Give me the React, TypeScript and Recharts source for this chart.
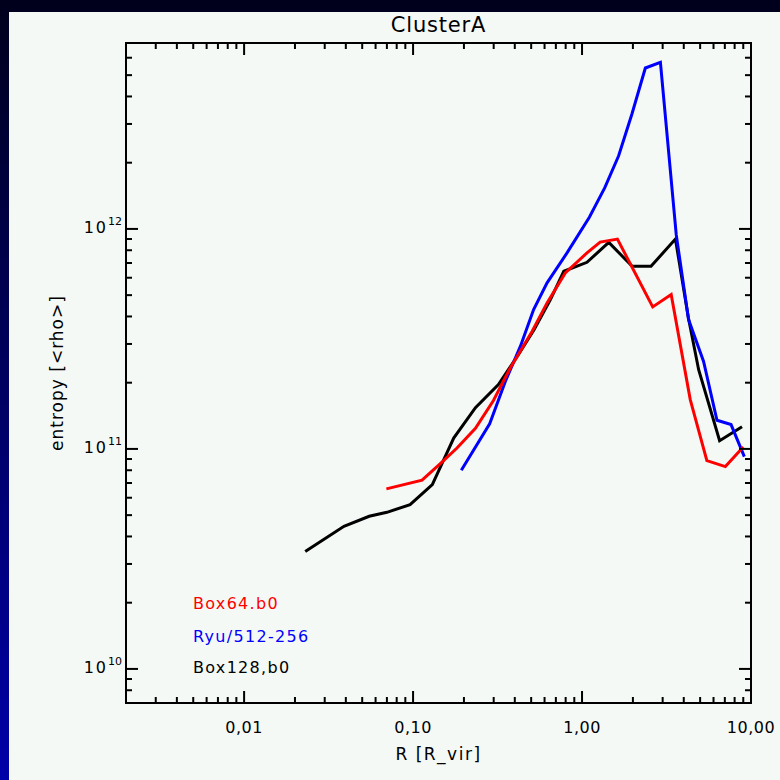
import React from "react";
import { LineChart, Line, XAxis, YAxis, ReferenceArea, Legend, Label } from "recharts";

// Radial entropy profiles, R in units of R_vir
const BOX64_R = [0.0695, 0.113, 0.145, 0.182, 0.234, 0.299, 0.376, 0.506, 0.621, 0.796, 1.07, 1.28, 1.62, 2.62, 3.37, 4.37, 5.48, 7.05, 9.0];
const BOX64_S = [6.58e10, 7.21e10, 8.57e10, 1.01e11, 1.24e11, 1.66e11, 2.33e11, 3.42e11, 4.61e11, 6.31e11, 7.78e11, 8.71e11, 8.99e11, 4.42e11, 5.03e11, 1.675e11, 8.85e10, 8.31e10, 1.02e11];

const RYU_R = [0.193, 0.284, 0.352, 0.432, 0.517, 0.621, 0.815, 1.105, 1.364, 1.647, 1.976, 2.37, 2.91, 3.61, 4.27, 5.24, 6.29, 7.62, 9.13];
const RYU_S = [8.0e10, 1.3e11, 2.03e11, 2.93e11, 4.3e11, 5.69e11, 7.78e11, 1.13e12, 1.54e12, 2.15e12, 3.34e12, 5.39e12, 5.72e12, 9.42e11, 3.87e11, 2.5e11, 1.35e11, 1.29e11, 9.23e10];

const BOX128_R = [0.023, 0.039, 0.055, 0.07, 0.096, 0.13, 0.174, 0.234, 0.32, 0.42, 0.52, 0.65, 0.78, 1.07, 1.44, 1.98, 2.56, 3.57, 4.26, 4.9, 6.52, 8.85];
const BOX128_S = [3.42e10, 4.45e10, 4.94e10, 5.15e10, 5.58e10, 6.88e10, 1.12e11, 1.54e11, 1.96e11, 2.68e11, 3.48e11, 4.77e11, 6.42e11, 7.05e11, 8.69e11, 6.76e11, 6.76e11, 9.0e11, 3.95e11, 2.29e11, 1.09e11, 1.26e11];

const X_DOMAIN = [0.002, 10];
const Y_DOMAIN = [7e9, 7e12];

const X_MAJOR = [0.01, 0.1, 1, 10];
const X_MAJOR_LABELS = ["0,01", "0,10", "1,00", "10,00"];
const X_DECADES = [0.001, 0.01, 0.1, 1];

const Y_MAJOR = [1e10, 1e11, 1e12];
const Y_EXPONENTS = ["10", "11", "12"];
const Y_DECADES = [1e9, 1e10, 1e11, 1e12];

const MINOR_STEPS = [2, 3, 4, 5, 6, 7, 8, 9];

const FONT = "'DejaVu Sans', sans-serif";
const PLOT = { left: 126, top: 43, right: 751, bottom: 703 };
const MAJOR_LEN = 12;
const MINOR_LEN = 6;

const toPoints = (rs: number[], ss: number[]) => rs.map((r, i) => ({ r, s: ss[i] }));

const minorTicks = (decades: number[], [lo, hi]: number[]) =>
  decades
    .flatMap((d) => MINOR_STEPS.map((m) => m * d))
    .filter((v) => v > lo * 1.0001 && v < hi * 0.9999);

const X_TICKS = [...X_MAJOR, ...minorTicks(X_DECADES, X_DOMAIN)].sort((a, b) => a - b);
const Y_TICKS = [...Y_MAJOR, ...minorTicks(Y_DECADES, Y_DOMAIN)].sort((a, b) => a - b);

const SERIES = [
  { name: "Box64.b0", color: "#ff0000" },
  { name: "Ryu/512-256", color: "#0000ff" },
  { name: "Box128,b0", color: "#000000" },
];

// inward ticks on both opposite edges of the box, labels only on decades
function XTick({ x, payload }: any) {
  const idx = X_MAJOR.indexOf(payload.value);
  const len = idx >= 0 ? MAJOR_LEN : MINOR_LEN;
  return (
    <g>
      <line x1={x} x2={x} y1={PLOT.bottom} y2={PLOT.bottom - len} stroke="#000" strokeWidth={2} />
      <line x1={x} x2={x} y1={PLOT.top} y2={PLOT.top + len} stroke="#000" strokeWidth={2} />
      {idx >= 0 && (
        <text x={x} y={PLOT.bottom + 30} textAnchor="middle" fontSize={16} fontFamily={FONT} letterSpacing={0.5} fill="#000">
          {X_MAJOR_LABELS[idx]}
        </text>
      )}
    </g>
  );
}

function YTick({ y, payload }: any) {
  const idx = Y_MAJOR.indexOf(payload.value);
  const len = idx >= 0 ? MAJOR_LEN : MINOR_LEN;
  return (
    <g>
      <line x1={PLOT.left} x2={PLOT.left + len} y1={y} y2={y} stroke="#000" strokeWidth={2} />
      <line x1={PLOT.right} x2={PLOT.right - len} y1={y} y2={y} stroke="#000" strokeWidth={2} />
      {idx >= 0 && (
        <text x={PLOT.left - 4} y={y + 4} textAnchor="end" fontSize={16} fontFamily={FONT} fill="#000">
          <tspan letterSpacing={2}>10</tspan>
          <tspan dy={-8} fontSize={11}>{Y_EXPONENTS[idx]}</tspan>
        </text>
      )}
    </g>
  );
}

function LegendBox() {
  const baselines = [23.5, 56.5, 88];
  return (
    <svg width={220} height={100} style={{ overflow: "visible" }}>
      {SERIES.map((s, i) => (
        <text key={s.name} x={13} y={baselines[i]} fontSize={16} fontFamily={FONT} letterSpacing={1.3} fill={s.color}>
          {s.name}
        </text>
      ))}
    </svg>
  );
}

export default function App() {
  const midX = (PLOT.left + PLOT.right) / 2;
  const midY = (PLOT.top + PLOT.bottom) / 2;
  return (
    <div
      style={{
        position: "fixed",
        left: 0,
        top: 0,
        width: 780,
        height: 780,
        background: "linear-gradient(to bottom, #00001c, #0000a8)",
      }}
    >
      <div style={{ position: "absolute", left: 9, top: 12, right: 0, bottom: 0, background: "#f5f9f5" }} />
      <div style={{ position: "absolute", left: 0, top: 0 }}>
        <LineChart
          width={780}
          height={780}
          margin={{ top: PLOT.top, left: PLOT.left - 1, right: 780 - PLOT.right, bottom: 780 - PLOT.bottom - 1 }}
        >
          <XAxis
            dataKey="r"
            type="number"
            scale="log"
            domain={X_DOMAIN}
            allowDataOverflow
            ticks={X_TICKS}
            interval={0}
            height={1}
            tickSize={0}
            tickMargin={0}
            tickLine={false}
            axisLine={false}
            tick={<XTick />}
          >
            <Label
              content={() => (
                <text x={midX} y={PLOT.bottom + 57} textAnchor="middle" fontSize={17} fontFamily={FONT} letterSpacing={1.5} fill="#000">
                  R [R_vir]
                </text>
              )}
            />
          </XAxis>
          <YAxis
            dataKey="s"
            type="number"
            scale="log"
            domain={Y_DOMAIN}
            allowDataOverflow
            ticks={Y_TICKS}
            interval={0}
            width={1}
            tickSize={0}
            tickMargin={0}
            tickLine={false}
            axisLine={false}
            tick={<YTick />}
          >
            <Label
              content={() => (
                <text
                  x={63}
                  y={midY}
                  transform={`rotate(-90, 63, ${midY})`}
                  textAnchor="middle"
                  fontSize={17}
                  fontFamily={FONT}
                  letterSpacing={1}
                  fill="#000"
                >
                  entropy [&lt;rho&gt;]
                </text>
              )}
            />
          </YAxis>
          <ReferenceArea
            x1={X_DOMAIN[0]}
            x2={X_DOMAIN[1]}
            y1={Y_DOMAIN[0]}
            y2={Y_DOMAIN[1]}
            fill="none"
            stroke="#000"
            strokeWidth={2}
          >
            <Label
              content={() => (
                <text x={midX} y={PLOT.top - 11} textAnchor="middle" fontSize={21} fontFamily={FONT} letterSpacing={0.8} fill="#000">
                  ClusterA
                </text>
              )}
            />
          </ReferenceArea>
          <Line data={toPoints(BOX128_R, BOX128_S)} dataKey="s" name="Box128,b0" type="linear" stroke="#000000" strokeWidth={3} dot={false} isAnimationActive={false} />
          <Line data={toPoints(RYU_R, RYU_S)} dataKey="s" name="Ryu/512-256" type="linear" stroke="#0000ff" strokeWidth={3} dot={false} isAnimationActive={false} />
          <Line data={toPoints(BOX64_R, BOX64_S)} dataKey="s" name="Box64.b0" type="linear" stroke="#ff0000" strokeWidth={3} dot={false} isAnimationActive={false} />
          <Legend
            layout="horizontal"
            verticalAlign="middle"
            align="center"
            content={<LegendBox />}
            wrapperStyle={{ position: "absolute", left: 180, top: 585, width: 220, height: 100 }}
          />
        </LineChart>
      </div>
    </div>
  );
}
